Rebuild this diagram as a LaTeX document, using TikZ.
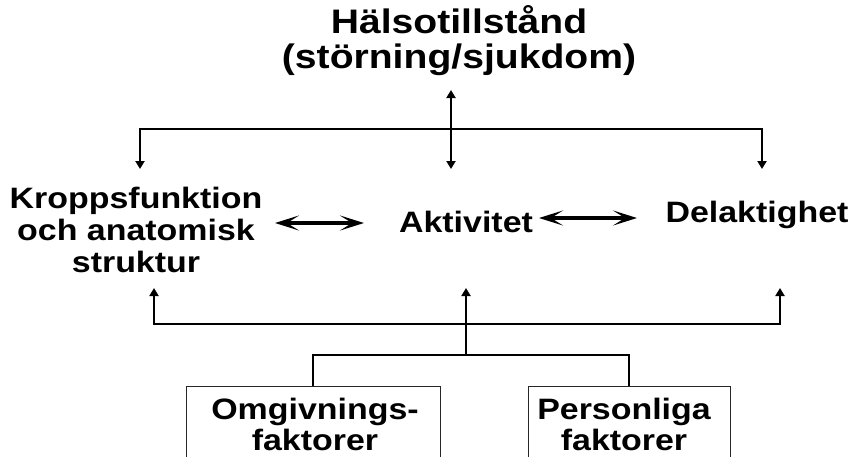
\documentclass[tikz,border=0pt]{standalone}
\usepackage{fontspec}
\setmainfont[FakeStretch=1.15]{Liberation Sans}
\usetikzlibrary{arrows.meta}
\begin{document}
\begin{tikzpicture}[x=1pt,y=-1pt,
  ttl/.style={font=\bfseries\fontsize{34}{35}\selectfont, align=center, inner sep=0pt},
  lbl/.style={font=\bfseries\fontsize{29.5}{32}\selectfont, align=center, inner sep=0pt},
  blbl/.style={font=\bfseries\fontsize{29.5}{31}\selectfont, align=center, inner sep=0pt},
  wire/.style={line width=2.4pt, line join=miter},
  conn/.style={wire, -{Triangle[length=8pt,width=9pt]}},
  dblv/.style={wire, {Triangle[length=8pt,width=9pt]}-{Triangle[length=8pt,width=9pt]}},
  dblh/.style={line width=3.2pt, {Stealth[length=24pt,width=15pt,inset=12pt]}-{Stealth[length=24pt,width=15pt,inset=12pt]}},
  fbox/.style={draw=black!85, line width=0.9pt, anchor=north, inner sep=0pt, minimum height=110pt}]
\useasboundingbox (0,0) rectangle (851,456);
\clip (0,0) rectangle (851,456);
% texts
\node[ttl, anchor=base] (title) at (459,68) {Hälsotillstånd\\(störning/sjukdom)};
\node[lbl, anchor=base] (kf) at (136,272) {Kroppsfunktion\\och anatomisk\\struktur};
\node[lbl, anchor=base] (akt) at (466,232) {Aktivitet};
\node[lbl, anchor=base] (del) at (757,222) {Delaktighet};
% boxes
\node[fbox, minimum width=254pt] (omgbox) at (313,386) {};
\node[fbox, minimum width=202pt] (persbox) at (629,386) {};
\node[blbl, anchor=base] (omg) at (315,450) {Omgivnings-\\faktorer};
\node[blbl, anchor=base] (pers) at (624,450) {Personliga\\faktorer};
% coordinates
\coordinate (tout) at (451,90);
\coordinate (tbus) at (451,129);
\coordinate (kfin) at (140,169);
\coordinate (akin) at (451,169);
\coordinate (delin) at (762,169);
\coordinate (kfout) at (154,288);
\coordinate (akout) at (466,288);
\coordinate (delout) at (780,288);
\coordinate (bbus) at (466,324);
\coordinate (bjoin) at (466,355);
\coordinate (la1) at (275,223);
\coordinate (la2) at (364,223);
\coordinate (ra1) at (539,218);
\coordinate (ra2) at (637,218);
% top connectors
\draw[dblv] (tout) -- (akin);
\draw[conn] (tbus) -| (kfin);
\draw[conn] (tbus) -| (delin);
% side arrows
\draw[dblh] (la1) -- (la2);
\draw[dblh] (ra1) -- (ra2);
% bottom connectors
\draw[conn] (bbus) -| (kfout);
\draw[conn] (bbus) -| (delout);
\draw[conn] (bjoin) -- (akout);
\draw[wire] (omgbox.north) |- (bjoin) -| (persbox.north);
\end{tikzpicture}
\end{document}
